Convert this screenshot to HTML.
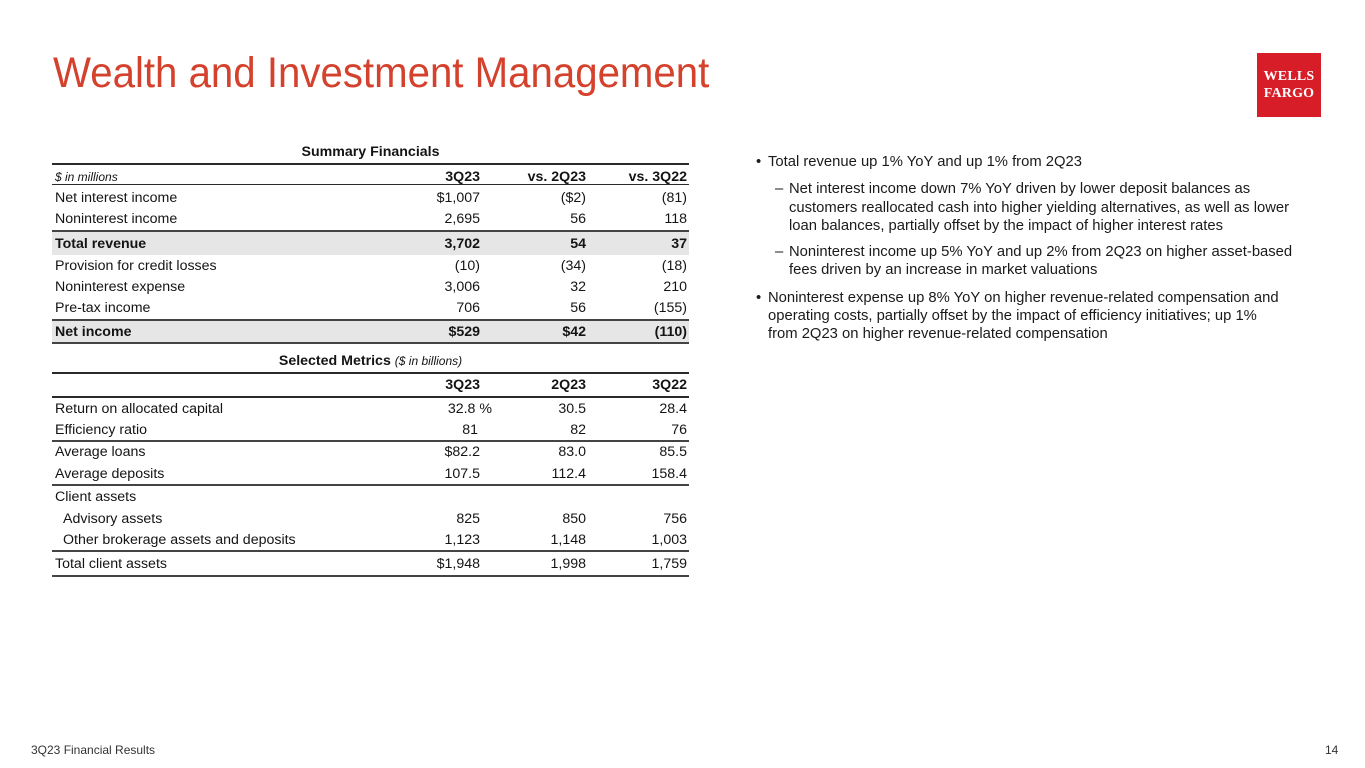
<!DOCTYPE html>
<html><head><meta charset="utf-8">
<style>
*{margin:0;padding:0;box-sizing:border-box}
body{width:1365px;height:768px;background:#fff;position:relative;overflow:hidden;font-family:"Liberation Sans",Arial,sans-serif;color:#141414}
.a{position:absolute;white-space:nowrap}
.title{left:53px;top:52px;font-size:43px;line-height:43px;color:#D4412C;transform-origin:0 0;transform:scaleX(0.935)}
.logo{left:1257px;top:53px;width:64px;height:64px;background:#D71E28;color:#fff;font-family:"Liberation Serif",serif;font-weight:bold;font-size:14px;line-height:17px;text-align:center;padding-top:15px;letter-spacing:0.2px}
.row{position:absolute;left:52px;width:637px;height:20px;line-height:20px;font-size:14.2px;white-space:nowrap}
.row .l{position:absolute;left:3px}
.row .c1{position:absolute;right:209px}
.row .c2{position:absolute;right:103px}
.row .c3{position:absolute;right:2px}
.b{font-weight:bold}
.line{position:absolute;left:52px;width:637px;background:#2a2a2a}
.band{position:absolute;left:52px;width:637px;background:#E6E6E6}
.ttl{position:absolute;left:52px;width:637px;text-align:center;font-size:14.2px;line-height:20px;font-weight:bold}
.bl{position:absolute;font-size:14.8px;line-height:18px;white-space:nowrap;color:#1a1a1a}
.foot{font-size:12px;color:#333}
</style></head><body>

<div class="a title">Wealth and Investment Management</div>
<div class="a logo">WELLS<br>FARGO</div>

<!-- Summary Financials -->
<div class="ttl" style="top:142px">Summary Financials</div>
<div class="line" style="top:163px;height:2px"></div>
<div class="row" style="top:167px"><span class="l" style="font-style:italic;font-size:12px">$ in millions</span><span class="c1 b">3Q23</span><span class="c2 b">vs. 2Q23</span><span class="c3 b">vs. 3Q22</span></div>
<div class="line" style="top:184px;height:1px"></div>
<div class="row" style="top:188px"><span class="l">Net interest income</span><span class="c1">$1,007</span><span class="c2">($2)</span><span class="c3">(81)</span></div>
<div class="row" style="top:209px"><span class="l">Noninterest income</span><span class="c1">2,695</span><span class="c2">56</span><span class="c3">118</span></div>
<div class="line" style="top:230px;height:2px;background:#444"></div>
<div class="band" style="top:232px;height:23px"></div>
<div class="row b" style="top:234px"><span class="l">Total revenue</span><span class="c1">3,702</span><span class="c2">54</span><span class="c3">37</span></div>
<div class="row" style="top:256px"><span class="l">Provision for credit losses</span><span class="c1">(10)</span><span class="c2">(34)</span><span class="c3">(18)</span></div>
<div class="row" style="top:277px"><span class="l">Noninterest expense</span><span class="c1">3,006</span><span class="c2">32</span><span class="c3">210</span></div>
<div class="row" style="top:298px"><span class="l">Pre-tax income</span><span class="c1">706</span><span class="c2">56</span><span class="c3">(155)</span></div>
<div class="line" style="top:319px;height:2px;background:#444"></div>
<div class="band" style="top:321px;height:21px"></div>
<div class="row b" style="top:322px"><span class="l">Net income</span><span class="c1">$529</span><span class="c2">$42</span><span class="c3">(110)</span></div>
<div class="line" style="top:342px;height:2px;background:#444"></div>

<!-- Selected Metrics -->
<div class="ttl" style="top:351px">Selected Metrics <span style="font-weight:normal;font-style:italic;font-size:12px">($ in billions)</span></div>
<div class="line" style="top:372px;height:2px"></div>
<div class="row b" style="top:375px"><span class="c1">3Q23</span><span class="c2">2Q23</span><span class="c3">3Q22</span></div>
<div class="line" style="top:396px;height:1.5px"></div>
<div class="row" style="top:399px"><span class="l">Return on allocated capital</span><span class="c1" style="right:197px">32.8 %</span><span class="c2">30.5</span><span class="c3">28.4</span></div>
<div class="row" style="top:420px"><span class="l">Efficiency ratio</span><span class="c1" style="right:211px">81</span><span class="c2">82</span><span class="c3">76</span></div>
<div class="line" style="top:440px;height:2px;background:#444"></div>
<div class="row" style="top:442px"><span class="l">Average loans</span><span class="c1">$82.2</span><span class="c2">83.0</span><span class="c3">85.5</span></div>
<div class="row" style="top:464px"><span class="l">Average deposits</span><span class="c1">107.5</span><span class="c2">112.4</span><span class="c3">158.4</span></div>
<div class="line" style="top:484px;height:2px;background:#444"></div>
<div class="row" style="top:487px"><span class="l">Client assets</span></div>
<div class="row" style="top:509px"><span class="l" style="left:11px">Advisory assets</span><span class="c1">825</span><span class="c2">850</span><span class="c3">756</span></div>
<div class="row" style="top:530px"><span class="l" style="left:11px">Other brokerage assets and deposits</span><span class="c1">1,123</span><span class="c2">1,148</span><span class="c3">1,003</span></div>
<div class="line" style="top:550px;height:2px;background:#444"></div>
<div class="row" style="top:554px"><span class="l">Total client assets</span><span class="c1">$1,948</span><span class="c2">1,998</span><span class="c3">1,759</span></div>
<div class="line" style="top:575px;height:2px;background:#444"></div>

<!-- Bullets -->
<div class="bl" style="left:756px;top:153px">•</div>
<div class="bl" style="left:768px;top:153px">Total revenue up 1% YoY and up 1% from 2Q23</div>
<div class="bl" style="left:775px;top:180px">–</div>
<div class="bl" style="left:789px;top:180px">Net interest income down 7% YoY driven by lower deposit balances as</div>
<div class="bl" style="left:789px;top:199px">customers reallocated cash into higher yielding alternatives, as well as lower</div>
<div class="bl" style="left:789px;top:217px">loan balances, partially offset by the impact of higher interest rates</div>
<div class="bl" style="left:775px;top:243px">–</div>
<div class="bl" style="left:789px;top:243px">Noninterest income up 5% YoY and up 2% from 2Q23 on higher asset-based</div>
<div class="bl" style="left:789px;top:261px">fees driven by an increase in market valuations</div>
<div class="bl" style="left:756px;top:289px">•</div>
<div class="bl" style="left:768px;top:289px">Noninterest expense up 8% YoY on higher revenue-related compensation and</div>
<div class="bl" style="left:768px;top:307px">operating costs, partially offset by the impact of efficiency initiatives; up 1%</div>
<div class="bl" style="left:768px;top:325px">from 2Q23 on higher revenue-related compensation</div>

<!-- Footer -->
<div class="a foot" style="left:31px;top:743px">3Q23 Financial Results</div>
<div class="a foot" style="left:1325px;top:743px">14</div>
</body></html>
